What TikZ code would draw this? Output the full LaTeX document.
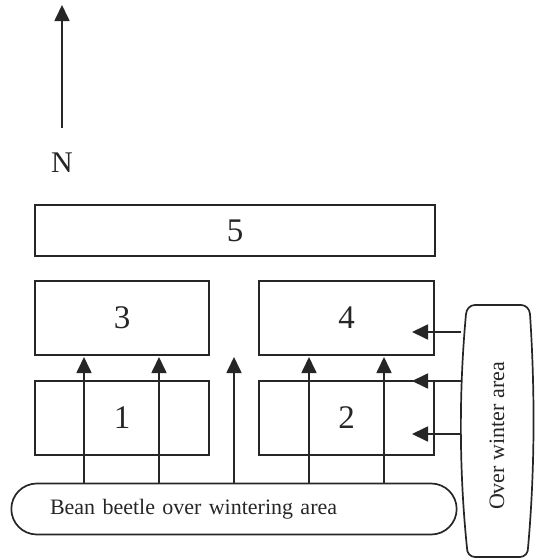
\documentclass[tikz,border=0pt]{standalone}
\usepackage{fontspec}
\setmainfont{Liberation Serif}
\usepackage{graphicx}
\usepackage{tikz}
\usetikzlibrary{arrows.meta,shapes.misc}

\begin{document}
\begin{tikzpicture}[x=1pt,y=-1pt,>={Triangle[length=16pt,width=15pt]},
line width=1.7pt,draw=black!85,text=black!85,
plot/.style={draw,minimum width=174pt,minimum height=74pt,inner sep=0pt,font=\fontsize{33}{37}\selectfont},
lab/.style={font=\fontsize{22}{26}\selectfont},
arr/.style={->}]
\useasboundingbox (0,0) rectangle (540,560);
% compass
\node[font=\fontsize{30}{34}\selectfont] (north) at (62,163) {N};
\draw[arr] ([yshift=21pt]north.north) -- (north.north |- 0,5);
% field plots
\node[plot,minimum width=400pt,minimum height=51pt] (p5) at (235,230.5) {5};
\node[plot] (p3) at (122,318) {3};
\node[plot,minimum width=175pt] (p4) at (346.5,318) {4};
\node[plot] (p1) at (122,418) {1};
\node[plot,minimum width=175pt] (p2) at (346.5,418) {2};
% overwintering areas
\node[lab,draw,rounded rectangle,minimum width=452pt,minimum height=51pt,text width=368pt,align=left] (beetle) at (234,509) {Bean beetle over wintering area};
\node[lab,minimum width=70pt,minimum height=252pt] (winter) at (497,436) {\rotatebox{90}{Over winter area}};
\draw (475,305) -- (521,305) to[out=0,in=95] (530,314)
  .. controls (535,390) and (535,470) .. (528,548) to[out=-85,in=0] (520,557)
  -- (475,557) to[out=180,in=-95] (467,548)
  .. controls (459,470) and (459,390) .. (466,314) to[out=85,in=180] (475,305) -- cycle;
% migration
\foreach \x in {84,159,234,309,384}
  \draw[arr] (beetle.north -| \x,0) -- (\x,357);
\foreach \y in {332,381,434}
  \draw[arr] (winter.west |- 0,\y) -- (412,\y);
\end{tikzpicture}
\end{document}
